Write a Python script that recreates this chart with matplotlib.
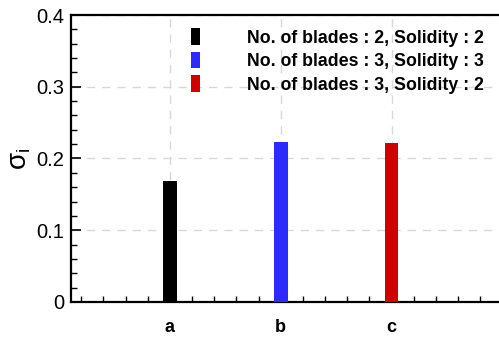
import matplotlib
matplotlib.use("Agg")
import matplotlib.pyplot as plt
from matplotlib.patches import Patch
from matplotlib.ticker import MultipleLocator

# ==========================================
# DATA
# ==========================================

cases = ["a", "b", "c"]
positions = [1, 2, 3]
sigma_i = [0.168, 0.223, 0.221]
labels = [
    "No. of blades : 2, Solidity : 2",
    "No. of blades : 3, Solidity : 3",
    "No. of blades : 3, Solidity : 2",
]
colors = ["#000000", "#2b2bff", "#d00000"]

# ==========================================
# STYLE
# ==========================================

plt.rcParams["font.family"] = ["Liberation Sans", "DejaVu Sans"]
plt.rcParams["mathtext.fontset"] = "custom"
plt.rcParams["mathtext.rm"] = "Liberation Sans"
plt.rcParams["mathtext.it"] = "Liberation Sans"

fig = plt.figure(figsize=(4.99, 3.41), dpi=100)
ax = fig.add_axes([0.1423, 0.1144, 0.8577, 0.8416])

# ==========================================
# BARS
# ==========================================

ax.bar(positions, sigma_i, width=0.125, color=colors, zorder=3)

ax.set_xlim(0.108, 3.97)
ax.set_ylim(0, 0.4)

ax.set_xticks(positions)
ax.set_xticklabels(cases, fontweight="bold", fontsize=13)
ax.xaxis.set_minor_locator(MultipleLocator(0.2))
ax.yaxis.set_minor_locator(MultipleLocator(0.02))
ax.set_yticks([0, 0.1, 0.2, 0.3, 0.4])
ax.set_yticklabels(["0", "0.1", "0.2", "0.3", "0.4"], fontsize=14.5)

ax.tick_params(which="major", direction="in", length=7, width=1.2, pad=5)
ax.tick_params(which="minor", direction="in", length=4, width=1.0)
ax.tick_params(axis="x", which="major", pad=12)

ax.grid(True, which="major", linestyle=(0, (6, 5)), color="#d8d8d8", linewidth=1.0, zorder=0)

for side in ["left", "bottom", "top"]:
    ax.spines[side].set_linewidth(1.6)
ax.spines["right"].set_visible(False)

ax.set_ylabel(r"$\sigma_\mathrm{i}$", fontsize=20, labelpad=2)

# ==========================================
# LEGEND
# ==========================================

handles = [Patch(facecolor=c, edgecolor="none") for c in colors]
ax.legend(
    handles,
    labels,
    loc="upper left",
    bbox_to_anchor=(0.280, 0.953),
    frameon=False,
    prop={"weight": "bold", "size": 12.8},
    handlelength=0.5,
    handleheight=1.02,
    handletextpad=2.65,
    labelspacing=0.3,
    borderpad=0,
    borderaxespad=0,
)

fig.savefig("out.png", dpi=100)
